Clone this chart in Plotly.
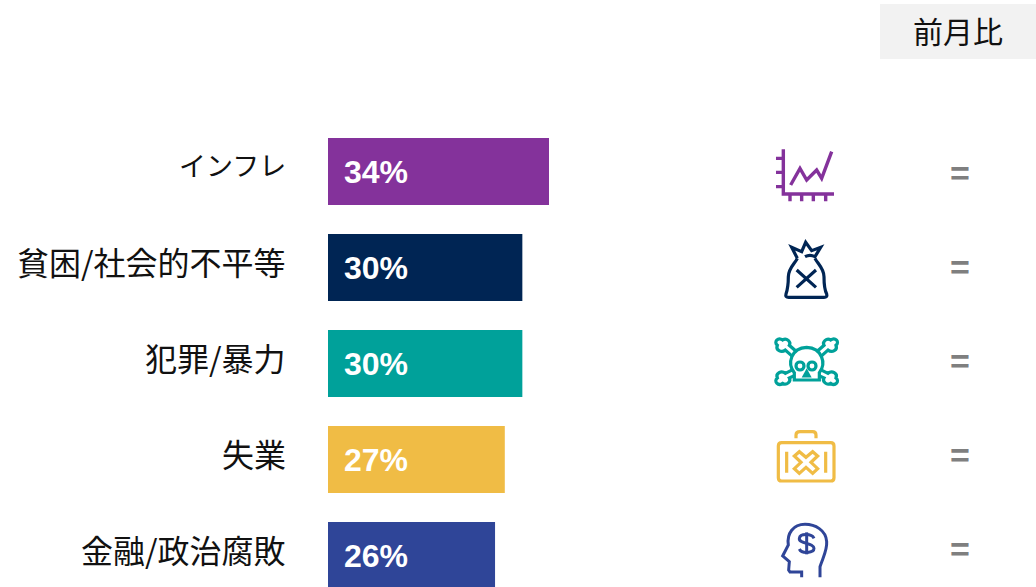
import re
import plotly.graph_objects as go

categories = ["インフレ", "貧困/社会的不平等", "犯罪/暴力", "失業", "金融/政治腐敗"]
values = [34, 29.9, 29.9, 27.2, 25.7]
value_labels = ["34%", "30%", "30%", "27%", "26%"]
colors = ["#84329B", "#002554", "#00A19A", "#F0BC45", "#2F4598"]
changes = ["=", "=", "=", "=", "="]
header = "前月比"

W, H = 1036, 587
CJK = "Meiryo, 'Noto Sans CJK JP', sans-serif"
LATIN = "Arial, 'Liberation Sans', sans-serif"


def to_paper(path, ox, oy, scale=3.0):
    """Path written in zoomed-icon coordinates -> paper coordinates."""
    out, is_x = [], True
    for tok in re.findall(r"[A-Za-z]|-?\d+\.?\d*", path):
        if tok.isalpha():
            out.append(tok)
        elif is_x:
            out.append(f"{(ox + float(tok) / scale) / W:.5f}")
            is_x = False
        else:
            out.append(f"{1 - (oy + float(tok) / scale) / H:.5f}")
            is_x = True
    return " ".join(out)


def mirror(pts, cx):
    return [(2 * cx - x, y) for x, y in pts]


def bone(pts):
    p = pts
    return (f"M{p[0][0]},{p[0][1]} L{p[1][0]},{p[1][1]} "
            f"C{p[2][0]},{p[2][1]} {p[3][0]},{p[3][1]} {p[4][0]},{p[4][1]} "
            f"C{p[5][0]},{p[5][1]} {p[6][0]},{p[6][1]} {p[7][0]},{p[7][1]} "
            f"C{p[8][0]},{p[8][1]} {p[9][0]},{p[9][1]} {p[10][0]},{p[10][1]} "
            f"L{p[11][0]},{p[11][1]}")


bone_top = [(80, 80), (58, 60), (46, 70), (28, 60), (34, 46), (22, 36), (36, 20), (50, 30), (62, 22), (76, 36), (70, 46), (92, 65)]
bone_bot = [(82, 118), (58, 130), (46, 120), (28, 130), (34, 144), (22, 154), (36, 170), (50, 160), (62, 168), (76, 154), (70, 144), (85, 137)]

icons = [
    # line chart
    (colors[0], 3.4, 740, 130, [
        "M130,58 L130,192 L282,192",
        "M108,85 L130,85 M108,127 L130,127 M108,170 L130,170",
        "M150,192 L150,214 M185,192 L185,214 M220,192 L220,214 M257,192 L257,214",
        "M152,165 L180,115 L200,150 L230,120 L245,145 L275,65",
    ]),
    # money bag
    (colors[1], 3.2, 740, 130, [
        "M172,385 C165,400 145,415 145,440 C145,465 142,480 138,492 Q135,502 146,502 "
        "L252,502 Q263,502 260,492 C254,480 252,465 252,440 C252,415 232,400 225,385",
        "M172,385 L155,352 L185,365 L197,337 L215,362 L242,352 L225,380 Q210,372 195,380",
        "M170,420 L228,472 M228,420 L170,472",
    ]),
    # skull and bones
    (colors[2], 3.2, 766, 330, [
        "M85,150 L85,128 C62,100 76,54 122,52 C168,54 182,100 160,128 L160,150 Z",
        "M90,108 C90,92 114,92 114,108 C114,124 90,124 90,108 Z",
        "M126,108 C126,92 150,92 150,108 C150,124 126,124 126,108 Z",
        "M122,125 L115,138 L129,138 Z",
        bone(bone_top), bone(mirror(bone_top, 122)),
        bone(bone_bot), bone(mirror(bone_bot, 122)),
    ]),
    # first-aid case
    (colors[3], 3.2, 740, 370, [
        "M125,218 L272,218 Q282,218 282,228 L282,323 Q282,333 272,333 L125,333 "
        "Q115,333 115,323 L115,228 Q115,218 125,218 Z",
        "M168,205 L168,195 Q168,185 180,185 L218,185 Q228,185 228,195 L228,205",
        "M140,245 L140,308 M257,245 L257,308",
        "M198,262 L218,245 L233,258 L213,277 L233,296 L218,310 L198,292 L178,310 "
        "L163,296 L183,277 L163,258 L178,245 Z",
    ]),
    # head with dollar
    (colors[4], 3.0, 740, 370, [
        "M240,622 L240,590 C250,560 262,540 260,515 C258,480 225,463 195,463 "
        "C160,463 140,490 145,525 L128,558 L148,575 L146,600 L150,606 L185,606 L185,622",
        "M222,505 C215,490 180,490 178,505 C176,522 222,518 222,535 C222,550 185,552 178,537",
        "M200,487 L200,553",
    ]),
]

fig = go.Figure(go.Bar(
    x=values, y=categories, orientation="h",
    marker=dict(color=colors, line=dict(width=0)),
    width=67 / 96, hoverinfo="skip",
))

shapes = [dict(type="rect", xref="paper", yref="paper",
               x0=880 / W, x1=1, y0=1 - 59 / H, y1=1 - 4 / H,
               fillcolor="#F2F2F2", line=dict(width=0), layer="below")]
for color, lw, ox, oy, paths in icons:
    for p in paths:
        shapes.append(dict(type="path", xref="paper", yref="paper",
                           path=to_paper(p, ox, oy),
                           line=dict(color=color, width=lw)))

annotations = [dict(text=header, xref="paper", yref="paper", x=958 / W, y=1 - 30 / H,
                    xanchor="center", yanchor="middle", showarrow=False,
                    font=dict(family=CJK, size=30, color="#111111"))]
for i, (c, lab, ch) in enumerate(zip(categories, value_labels, changes)):
    annotations.append(dict(text=c, xref="x domain", yref="y", x=0, y=c, xshift=-40, yshift=7,
                            xanchor="right", yanchor="middle", showarrow=False,
                            font=dict(family=CJK, size=27 if i == 0 else 32, color="#111111")))
    annotations.append(dict(text=f"<b>{lab}</b>", xref="x", yref="y", x=0, y=c, xshift=14, yshift=0,
                            xanchor="left", yanchor="middle", showarrow=False,
                            font=dict(family=LATIN, size=32, color="#FFFFFF")))
    annotations.append(dict(text=f"<b>{ch}</b>", xref="paper", yref="paper",
                            x=960 / W, y=1 - (173 + 94 * i) / H,
                            xanchor="center", yanchor="middle", showarrow=False,
                            font=dict(family=LATIN, size=34, color="#7F7F7F")))

fig.update_layout(
    width=W, height=H, margin=dict(l=0, r=0, t=0, b=0),
    paper_bgcolor="white", plot_bgcolor="white", showlegend=False,
    xaxis=dict(domain=[328 / W, 1], range=[0, (W - 328) / 6.5], visible=False),
    yaxis=dict(type="category", categoryorder="array", categoryarray=categories,
               range=[(H - 171.5) / 96, -171.5 / 96], visible=False),
    shapes=shapes, annotations=annotations,
)
fig.write_html("out.html", config={"displayModeBar": False},
               post_script="document.body.style.margin='0';document.body.style.overflow='hidden';")
